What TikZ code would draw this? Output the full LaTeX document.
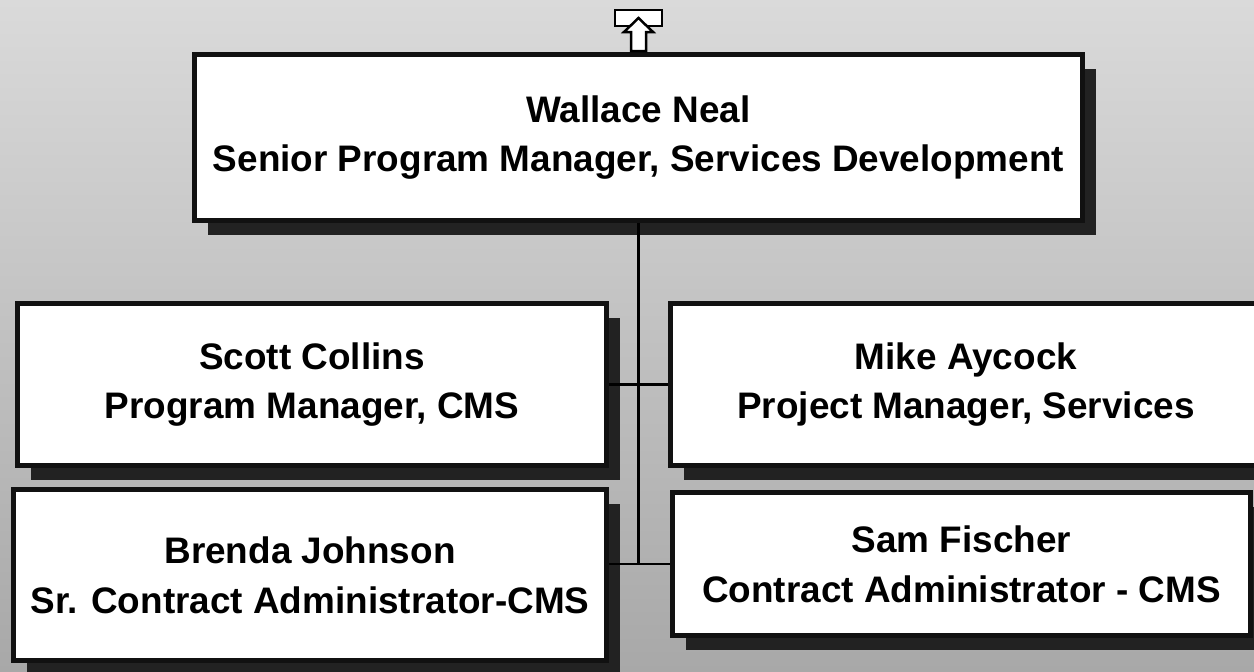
\documentclass[tikz,border=0pt]{standalone}
\usepackage{fontspec}
\setmainfont{Liberation Sans}
\usetikzlibrary{shadows}
\definecolor{OrgBgTop}{RGB}{218,218,218}
\definecolor{OrgBgBottom}{RGB}{168,168,168}
\definecolor{OrgBorder}{RGB}{17,17,17}
\definecolor{OrgShadow}{RGB}{34,34,34}
\tikzset{
  staff/.style={rectangle, draw=OrgBorder, line width=0.5mm, fill=white, inner sep=0pt,
    align=center, font=\fontsize{10.5pt}{14.2pt}\selectfont\bfseries,
    drop shadow={shadow xshift=1.3mm, shadow yshift=-1.4mm, fill=OrgShadow, opacity=1}},
  link/.style={draw=black, line width=0.6pt}
}
\begin{document}
\begin{tikzpicture}[x=0.1mm, y=-0.1mm]
  \useasboundingbox (0,0) rectangle (1254,672);
  \shade[top color=OrgBgTop, bottom color=OrgBgBottom] (0,0) rectangle (1254,672);
  %
  \node [staff, minimum width=88.8mm, minimum height=16.6mm] (wn) at (638.5,137.5)
    {Wallace Neal\\Senior Program Manager, Services Development};
  \node [staff, minimum width=58.9mm, minimum height=16.2mm] (sc) at (312,384.5)
    {Scott Collins\\Program Manager, CMS};
  \node [staff, minimum width=59.1mm, minimum height=16.2mm] (ma) at (966,384.5)
    {Mike Aycock\\Project Manager, Services};
  \node [staff, minimum width=59.3mm, minimum height=17.1mm] (bj) at (310,575)
    {Brenda Johnson\\Sr. Contract Administrator-CMS};
  \node [staff, minimum width=57.8mm, minimum height=14.3mm] (sf) at (961.5,564)
    {Sam Fischer\\Contract Administrator - CMS};
  %
  \draw [link] (wn.south) -- (wn.south |- sf.west);
  \draw [link] (sc.east) -- (ma.west);
  \draw [link] (bj.east |- sf.west) -- (sf.west);
  %
  % up marker
  \draw [fill=white, draw=black, line width=0.25mm] (615,10) rectangle (662,26);
  \draw [fill=white, draw=black, line width=0.25mm, line join=miter]
    (638.5,18) -- (653,32) -- (646,32) -- (646,51) -- (631,51) -- (631,32) -- (624,32) -- cycle;
\end{tikzpicture}
\end{document}
